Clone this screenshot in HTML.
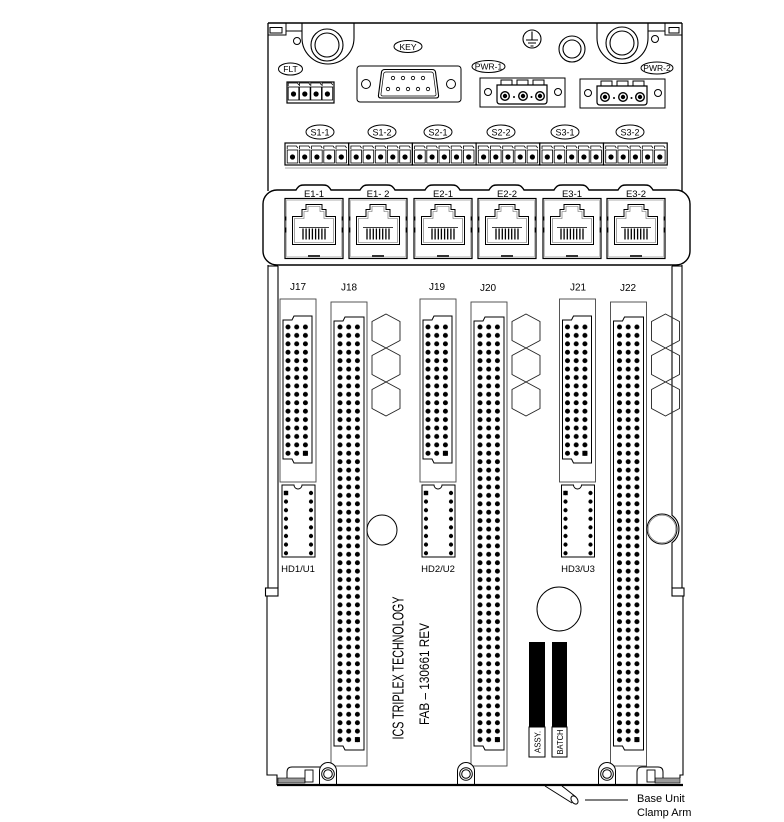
<!DOCTYPE html>
<html><head><meta charset="utf-8"><style>
html,body{margin:0;padding:0;background:#fff;}
svg{display:block;}
text{font-family:"Liberation Sans",Arial,sans-serif;fill:#000;}
</style></head><body>
<svg width="784" height="822" viewBox="0 0 784 822" xmlns="http://www.w3.org/2000/svg">
<defs>
<pattern id="pd" patternUnits="userSpaceOnUse" width="8.7" height="8.42"><circle cx="4.35" cy="4.21" r="2.5" fill="#000"/></pattern>
<pattern id="ph" patternUnits="userSpaceOnUse" width="25" height="8.6"><circle cx="4" cy="4.3" r="2.1" fill="#000"/></pattern>

<g id="pin">
 <rect x="-5.3" y="150" width="10.6" height="13" fill="none" stroke="#000" stroke-width="0.8"/>
 <circle cx="0" cy="157" r="2.6" fill="#000"/>
 <path d="M-5.3,149 V146 H4 L5.3,148" fill="none" stroke="#000" stroke-width="0.8"/>
</g>
<g id="sg">
 <rect x="0" y="143" width="63.7" height="22" fill="#fff" stroke="#000" stroke-width="1.2"/>
 <use href="#pin" x="7.5"/><use href="#pin" x="19.7"/><use href="#pin" x="31.9"/><use href="#pin" x="44.1"/><use href="#pin" x="56.3"/>
</g>

<g id="jack">
 <rect x="0" y="0" width="58" height="60" fill="#fff" stroke="#000" stroke-width="1.2"/>
 <rect x="1.6" y="1.6" width="54.8" height="56.8" fill="none" stroke="#999" stroke-width="0.6"/>
 <path d="M7.5,46 V18 H17 V11 H21 V6 H37 V11 H41 V18 H50.5 V46 Z" fill="none" stroke="#000" stroke-width="1"/>
 <path d="M9.5,44 V20 H19 V13 H23 V8 H35 V13 H39 V20 H48.5 V44 Z" fill="none" stroke="#666" stroke-width="0.6"/>
 <path d="M14,29 H44" stroke="#000" stroke-width="0.8"/>
 <path d="M18,30 V41 M21.1,30 V41 M24.3,30 V41 M27.4,30 V41 M30.6,30 V41 M33.7,30 V41 M36.9,30 V41 M40,30 V41" stroke="#000" stroke-width="1.3"/>
 <path d="M0.8,18 V22 M0.8,29 V34 M57.2,18 V22 M57.2,29 V34" stroke="#000" stroke-width="0.8"/>
 <rect x="23" y="56.5" width="12" height="2" fill="#333"/>
</g>

<g id="pwr">
 <rect x="480" y="78" width="85" height="29" fill="#fff" stroke="#000" stroke-width="1"/>
 <circle cx="488" cy="92" r="3.5" fill="none" stroke="#000" stroke-width="1"/>
 <circle cx="558" cy="92" r="3.5" fill="none" stroke="#000" stroke-width="1"/>
 <path d="M497,85 H547 V101 Q547,104 544,104 H500 Q497,104 497,101 Z" fill="#fff" stroke="#000" stroke-width="1.2"/>
 <path d="M501,85 V80 H512 V85 M517,85 V80 H528 V85 M533,85 V80 H544 V85" fill="none" stroke="#000" stroke-width="1"/>
 <circle cx="505" cy="96" r="4.3" fill="#fff" stroke="#000" stroke-width="1.4"/>
 <circle cx="505" cy="96" r="2.2" fill="#000"/>
 <circle cx="523" cy="96" r="4.3" fill="#fff" stroke="#000" stroke-width="1.4"/>
 <circle cx="523" cy="96" r="2.2" fill="#000"/>
 <circle cx="540" cy="96" r="4.3" fill="#fff" stroke="#000" stroke-width="1.4"/>
 <circle cx="540" cy="96" r="2.2" fill="#000"/>
 <circle cx="514" cy="97" r="1" fill="#000"/>
 <circle cx="531.5" cy="97" r="1" fill="#000"/>
</g>

<g id="grp">
 <!-- short connector -->
 <rect x="280" y="299" width="36" height="183" fill="none" stroke="#444" stroke-width="0.9"/>
 <path d="M283,320 H292 L294,316 H312 V463 H294 L292,459 H283 Z" fill="none" stroke="#000" stroke-width="1"/>
 <g transform="translate(283.65,322.79)"><rect x="0" y="0" width="26.1" height="134.72" fill="url(#pd)"/></g>
 <rect x="302.9" y="450.8" width="5" height="5" fill="#000"/>
 <!-- HD -->
 <path d="M282,485 H294 A4,4 0 0 0 302,485 H315 V557 H282 Z" fill="none" stroke="#000" stroke-width="1"/>
 <g transform="translate(282,488.7)"><rect x="0" y="0" width="33" height="68.8" fill="url(#ph)"/></g>
 <rect x="283.8" y="490.8" width="4.4" height="4.4" fill="#000"/>
 <!-- tall connector -->
 <rect x="331" y="302" width="36" height="464" fill="none" stroke="#444" stroke-width="0.9"/>
 <path d="M334,321 H343 L345,317 H364 V750 H345 L343,746 H334 Z" fill="none" stroke="#000" stroke-width="1"/>
 <g transform="translate(335.65,322.79)"><rect x="0" y="0" width="26.1" height="421" fill="url(#pd)"/></g>
 <rect x="354.9" y="737.1" width="5" height="5" fill="#000"/>
 <!-- hexagons -->
 <path d="M386,314 L400,321.5 V340.5 L386,348 L372,340.5 V321.5 Z M386,348 L400,355.5 V374.5 L386,382 L372,374.5 V355.5 Z M386,382 L400,389.5 V408.5 L386,416 L372,408.5 V389.5 Z" fill="none" stroke="#222" stroke-width="0.9"/>
</g>
</defs>

<!-- ===== top frame ===== -->
<path d="M268,23 H682" stroke="#000" stroke-width="1.5" fill="none"/>
<path d="M268,23 V191" stroke="#000" stroke-width="1.3"/>
<path d="M682,23 V191" stroke="#000" stroke-width="1.3"/>
<!-- top-left details -->
<rect x="270" y="27.5" width="12" height="5.5" fill="none" stroke="#000" stroke-width="1"/>
<path d="M268,35 H286 V23 M286,31 H302" fill="none" stroke="#000" stroke-width="1"/>
<circle cx="297" cy="41" r="3.5" fill="none" stroke="#000" stroke-width="1"/>
<path d="M302,23 V38 A26,26 0 0 0 354,38 V23" fill="none" stroke="#000" stroke-width="1.1"/>
<circle cx="327" cy="45" r="16" fill="none" stroke="#000" stroke-width="1.1"/>
<circle cx="327" cy="45" r="12" fill="none" stroke="#000" stroke-width="1.1"/>
<!-- top-right details -->
<rect x="669" y="27.5" width="10" height="5.5" fill="none" stroke="#000" stroke-width="1"/>
<path d="M682,35 H665 V23 M665,31 H648" fill="none" stroke="#000" stroke-width="1"/>
<circle cx="655" cy="39" r="3.5" fill="none" stroke="#000" stroke-width="1"/>
<path d="M597,23 V38 A25.5,25.5 0 0 0 648,38 V23" fill="none" stroke="#000" stroke-width="1.1"/>
<circle cx="622" cy="43" r="16" fill="none" stroke="#000" stroke-width="1.1"/>
<circle cx="622" cy="43" r="12" fill="none" stroke="#000" stroke-width="1.1"/>
<!-- ground + small screw -->
<circle cx="532" cy="39" r="9" fill="none" stroke="#000" stroke-width="1.1"/>
<path d="M532,31.5 V40 M526,40 H538 M528,43 H536 M530.5,46 H533.5" stroke="#000" stroke-width="1.1" fill="none"/>
<circle cx="572" cy="49" r="13" fill="none" stroke="#000" stroke-width="1.1"/>
<circle cx="572" cy="49" r="9" fill="none" stroke="#000" stroke-width="1.1"/>

<!-- KEY / DB9 -->
<ellipse cx="408" cy="46.5" rx="14" ry="6" fill="#fff" stroke="#000" stroke-width="1"/>
<text x="408" y="49.8" font-size="8.5" text-anchor="middle">KEY</text>
<rect x="357" y="66" width="104" height="36" rx="3" fill="#fff" stroke="#000" stroke-width="1"/>
<circle cx="366" cy="84" r="4.5" fill="none" stroke="#000" stroke-width="1"/>
<circle cx="451" cy="84" r="4.5" fill="none" stroke="#000" stroke-width="1"/>
<path d="M385,69.5 H432 Q435,69.5 435.5,72 L438.5,95 Q439,98 436,98 H381 Q378,98 378.5,95 L381.5,72 Q382,69.5 385,69.5 Z" fill="none" stroke="#000" stroke-width="1.1"/>
<path d="M386,72 H431 Q433,72 433.4,74 L436,94 Q436.3,96 434,96 H383 Q380.7,96 381,94 L383.6,74 Q384,72 386,72 Z" fill="none" stroke="#000" stroke-width="0.7"/>
<g fill="none" stroke="#000" stroke-width="0.8">
<circle cx="393" cy="78" r="1.7"/><circle cx="403" cy="78" r="1.7"/><circle cx="413" cy="78" r="1.7"/><circle cx="423" cy="78" r="1.7"/>
<circle cx="388" cy="89" r="1.7"/><circle cx="398" cy="89" r="1.7"/><circle cx="408" cy="89" r="1.7"/><circle cx="418" cy="89" r="1.7"/><circle cx="428" cy="89" r="1.7"/>
</g>

<!-- FLT -->
<ellipse cx="290.5" cy="69" rx="12" ry="6" fill="#fff" stroke="#000" stroke-width="1"/>
<text x="290.5" y="72.2" font-size="8.5" text-anchor="middle">FLT</text>
<rect x="287" y="82" width="47" height="21" fill="#fff" stroke="#000" stroke-width="1.2"/>
<use href="#pin" x="293.5" y="-63"/><use href="#pin" x="304.8" y="-63"/><use href="#pin" x="316.1" y="-63"/><use href="#pin" x="327.4" y="-63"/>

<!-- PWR -->
<ellipse cx="488.5" cy="66.5" rx="16.5" ry="6" fill="#fff" stroke="#000" stroke-width="1"/>
<text x="488.5" y="69.7" font-size="8.5" text-anchor="middle">PWR-1</text>
<use href="#pwr"/>
<ellipse cx="657" cy="68" rx="16" ry="6" fill="#fff" stroke="#000" stroke-width="1"/>
<text x="657" y="71.2" font-size="8.5" text-anchor="middle">PWR-2</text>
<use href="#pwr" x="100" y="1"/>

<!-- S labels -->
<g fill="#fff" stroke="#000" stroke-width="1">
<ellipse cx="320" cy="132" rx="14" ry="7"/><ellipse cx="382" cy="132" rx="14" ry="7"/><ellipse cx="438" cy="132" rx="14" ry="7"/>
<ellipse cx="501" cy="132" rx="14" ry="7"/><ellipse cx="565" cy="132" rx="14" ry="7"/><ellipse cx="630" cy="132" rx="14" ry="7"/>
</g>
<g font-size="9" text-anchor="middle">
<text x="320" y="135.3">S1-1</text><text x="382" y="135.3">S1-2</text><text x="438" y="135.3">S2-1</text>
<text x="501" y="135.3">S2-2</text><text x="565" y="135.3">S3-1</text><text x="630" y="135.3">S3-2</text>
</g>
<use href="#sg" x="285"/><use href="#sg" x="348.7"/><use href="#sg" x="412.4"/><use href="#sg" x="476.1"/><use href="#sg" x="539.8"/><use href="#sg" x="603.5"/>
<path d="M285,168 H667" stroke="#888" stroke-width="0.7"/>

<!-- RJ45 enclosure -->
<path d="M277,190 H296 C299,185 301,185 305,185 H322 C326,185 328,185 331,190 H360 C363,185 365,185 369,185 H386 C390,185 392,185 395,190 H425 C428,185 430,185 434,185 H451 C455,185 457,185 460,190 H489 C492,185 494,185 498,185 H515 C519,185 521,185 524,190 H554 C557,185 559,185 563,185 H580 C584,185 586,185 589,190 H618 C621,185 623,185 627,185 H644 C648,185 650,185 653,190 H676 A14,14 0 0 1 690,204 V251 A14,14 0 0 1 676,265 H277 A14,14 0 0 1 263,251 V204 A14,14 0 0 1 277,190 Z" fill="#fff" stroke="#000" stroke-width="1.4"/>
<use href="#jack" x="285" y="198.5"/><use href="#jack" x="349" y="198.5"/><use href="#jack" x="414" y="198.5"/>
<use href="#jack" x="478" y="198.5"/><use href="#jack" x="543" y="198.5"/><use href="#jack" x="607" y="198.5"/>
<g font-size="9.5" text-anchor="middle">
<text x="314" y="197">E1-1</text><text x="378" y="197">E1- 2</text><text x="443" y="197">E2-1</text>
<text x="507" y="197">E2-2</text><text x="572" y="197">E3-1</text><text x="636" y="197">E3-2</text>
</g>

<!-- side frame lower -->
<g fill="none" stroke="#000" stroke-width="1.1">
<path d="M268,265 V588"/><path d="M278,266 V588"/><path d="M268,266 H278"/>
<rect x="265.5" y="588" width="12.5" height="8"/>
<path d="M267,596 V775 H277 V785"/>
<path d="M682,265 V588"/>
<path d="M672,266 V515.3 A17,17 0 0 1 672,542.7 V588"/><path d="M672,266 H682"/>
<rect x="672" y="588" width="12" height="8"/>
<path d="M683,596 V775 H680 V778"/>
</g>

<!-- connector groups -->
<use href="#grp"/>
<use href="#grp" x="140"/>
<use href="#grp" x="279.5"/>

<!-- J labels -->
<g font-size="10" text-anchor="middle">
<text x="298" y="290">J17</text><text x="349" y="290.5">J18</text><text x="437" y="290">J19</text>
<text x="488" y="291">J20</text><text x="578" y="290.5">J21</text><text x="628" y="291">J22</text>
</g>
<g font-size="9.5" text-anchor="middle">
<text x="298" y="572">HD1/U1</text><text x="438" y="572">HD2/U2</text><text x="578" y="572">HD3/U3</text>
</g>

<!-- circles -->
<circle cx="382" cy="530" r="15" fill="none" stroke="#000" stroke-width="1"/>
<circle cx="662" cy="529" r="15" fill="#fff" stroke="#000" stroke-width="1"/>
<circle cx="662" cy="529" r="13.8" fill="none" stroke="#777" stroke-width="0.6"/>
<circle cx="559" cy="609" r="22" fill="none" stroke="#000" stroke-width="1"/>

<!-- vertical text -->
<text transform="translate(403.5,668) rotate(-90)" font-size="15.5" text-anchor="middle" textLength="143" lengthAdjust="spacingAndGlyphs">ICS TRIPLEX TECHNOLOGY</text>
<text transform="translate(429,674) rotate(-90)" font-size="14" text-anchor="middle" textLength="102" lengthAdjust="spacingAndGlyphs">FAB  –  130661  REV</text>

<!-- ASSY / BATCH -->
<rect x="529" y="642" width="16" height="85" fill="#000"/>
<rect x="529" y="727" width="16" height="30" fill="#fff" stroke="#000" stroke-width="1"/>
<text transform="translate(540.5,742) rotate(-90)" font-size="8.5" text-anchor="middle" textLength="22" lengthAdjust="spacingAndGlyphs">ASSY.</text>
<rect x="552" y="642" width="15" height="85" fill="#000"/>
<rect x="552" y="727" width="15" height="30" fill="#fff" stroke="#000" stroke-width="1"/>
<text transform="translate(563,742) rotate(-90)" font-size="8.5" text-anchor="middle" textLength="25" lengthAdjust="spacingAndGlyphs">BATCH</text>

<!-- bottom -->
<rect x="278" y="778" width="27" height="5" fill="#999" stroke="#000" stroke-width="0.6"/>
<rect x="305" y="770" width="8" height="12" fill="#fff" stroke="#000" stroke-width="0.9"/>
<path d="M287,778 V772 Q287,767 292,767 H320" fill="none" stroke="#000" stroke-width="1"/>
<rect x="655" y="778" width="25" height="5" fill="#999" stroke="#000" stroke-width="0.6"/>
<rect x="647" y="770" width="8" height="12" fill="#fff" stroke="#000" stroke-width="0.9"/>
<path d="M637,785 V772 Q637,767 642,767 H658 Q663,767 663,772 V778" fill="none" stroke="#000" stroke-width="1"/>
<g fill="#fff" stroke="#000" stroke-width="1">
<path d="M319.5,785 V771 A8.5,8.5 0 0 1 336.5,771 V785"/>
<circle cx="328" cy="774" r="6.3"/><circle cx="328" cy="774" r="4.3"/>
<path d="M457.5,785 V771 A8.5,8.5 0 0 1 474.5,771 V785"/>
<circle cx="466" cy="774" r="6.3"/><circle cx="466" cy="774" r="4.3"/>
<path d="M598.5,785 V771 A8.5,8.5 0 0 1 615.5,771 V785"/>
<circle cx="607" cy="774" r="6.3"/><circle cx="607" cy="774" r="4.3"/>
</g>
<path d="M277,785 H683" stroke="#000" stroke-width="2.2"/>

<!-- clamp arm -->
<path d="M545,786 L572,803 M562,786 L576,797" stroke="#000" stroke-width="1" fill="none"/>
<ellipse cx="574.5" cy="800" rx="3" ry="4.5" transform="rotate(-35 574.5 800)" fill="#fff" stroke="#000" stroke-width="1"/>
<path d="M585,800 H628" stroke="#000" stroke-width="1"/>
<text x="637" y="802" font-size="11">Base Unit</text>
<text x="637" y="816" font-size="11">Clamp Arm</text>
</svg>
</body></html>
